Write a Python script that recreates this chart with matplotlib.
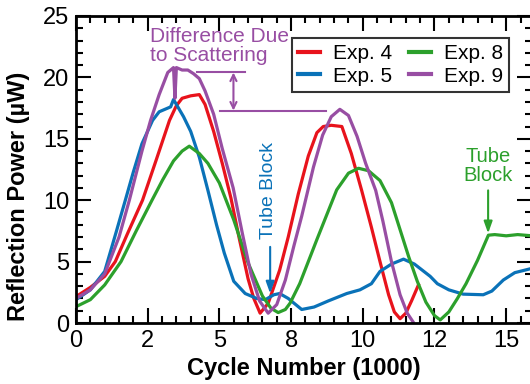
import matplotlib
matplotlib.use("Agg")
import matplotlib.pyplot as plt
from matplotlib.ticker import FixedLocator, MultipleLocator

plt.rcParams['font.family'] = ['Liberation Sans', 'DejaVu Sans']

# ---- data ----
red_x = [0, 0.5, 1.0, 1.37, 1.8, 2.32, 2.8, 3.26, 3.5, 3.7, 4.0, 4.3, 4.5, 4.8, 5.1, 5.4, 5.7, 6.0, 6.2, 6.42,
         6.7, 7.1, 7.4, 7.75, 8.1, 8.4, 8.62, 8.9, 9.27, 9.6, 9.96, 10.3, 10.6, 10.9, 11.1, 11.3, 11.5, 11.7, 11.94]
red_y = [2.15, 2.9, 3.8, 5.0, 7.3, 10.0, 13.3, 16.5, 17.7, 18.3, 18.5, 18.6, 17.8, 15.6, 13.0, 10.2, 6.8, 3.6, 2.0, 0.8,
         1.6, 4.3, 7.0, 10.5, 13.6, 15.5, 16.0, 16.1, 16.0, 13.8, 10.8, 7.8, 5.0, 2.3, 0.9, 0.35, 0.8, 1.8, 3.1]

blue_x = [0, 0.5, 1.0, 1.1, 1.4, 1.72, 2.0, 2.3, 2.67, 2.9, 3.1, 3.3, 3.4, 3.55, 3.75, 4.0, 4.3, 4.6, 4.9, 5.17,
          5.5, 5.9, 6.3, 6.6, 6.9, 7.1, 7.4, 7.87, 8.3, 8.8, 9.44, 9.9, 10.3, 10.6, 11.0, 11.42, 11.8, 12.35, 12.6,
          13.0, 13.5, 14.2, 14.5, 14.9, 15.3, 15.9]
blue_y = [1.9, 2.7, 4.2, 5.0, 7.4, 10.0, 12.3, 14.6, 16.5, 17.2, 17.4, 17.6, 18.2, 17.6, 16.8, 15.6, 13.5, 10.8, 8.0, 5.7,
          3.4, 2.4, 2.0, 1.9, 2.3, 2.4, 2.0, 1.1, 1.3, 1.8, 2.4, 2.7, 3.2, 4.2, 4.8, 5.2, 4.8, 3.8, 3.2,
          2.7, 2.35, 2.3, 2.6, 3.5, 4.1, 4.45]

green_x = [0, 0.5, 1.0, 1.57, 2.1, 2.65, 3.02, 3.4, 3.7, 3.95, 4.3, 4.6, 5.0, 5.5, 6.0, 6.5, 6.8, 7.05, 7.3, 7.46,
           7.8, 8.4, 9.09, 9.5, 9.85, 10.2, 10.6, 11.0, 11.3, 11.6, 11.9, 12.2, 12.5, 12.7, 13.0, 13.3, 13.6, 14.0,
           14.38, 14.6, 15.0, 15.4, 15.9]
green_y = [1.33, 1.9, 3.1, 5.0, 7.5, 10.0, 11.65, 13.2, 14.0, 14.4, 13.8, 13.0, 11.4, 8.4, 4.9, 2.2, 1.2, 0.85, 1.1, 1.6,
           3.2, 6.8, 10.84, 12.2, 12.6, 12.4, 11.6, 9.8, 7.6, 5.4, 3.4, 1.7, 0.6, 0.25, 0.9, 2.0, 3.2, 5.1,
           7.15, 7.2, 7.1, 7.2, 7.1]

purple_x = [0, 0.5, 1.0, 1.5, 1.86, 2.3, 2.6, 2.9, 3.2, 3.4, 3.45, 3.5, 3.7, 3.9, 4.1, 4.3, 4.5, 4.8, 5.1, 5.48,
            5.8, 6.1, 6.4, 6.7, 7.0, 7.3, 7.6, 7.87, 8.28, 8.6, 8.9, 9.2, 9.5, 9.8, 10.1, 10.45, 10.7, 11.0, 11.3,
            11.55, 11.75]
purple_y = [2.0, 2.7, 4.0, 7.0, 10.0, 14.0, 16.5, 18.6, 20.4, 20.8, 18.3, 20.8, 20.6, 20.6, 20.3, 19.9, 18.9, 17.0, 14.2, 11.0,
            7.3, 4.0, 1.8, 0.8, 1.5, 3.5, 6.3, 8.7, 12.7, 15.3, 16.8, 17.4, 16.9, 15.2, 13.0, 10.8, 8.3, 5.0, 2.3,
            0.8, 0.1]

series_labels = ['Exp. 4', 'Exp. 5', 'Exp. 8', 'Exp. 9']
series_colors = ['#e8131c', '#0a72b8', '#2ca02c', '#984ea3']

x_tick_pos = [0, 2.5, 5, 7.5, 10, 12.5, 15]
x_tick_labels = ['0', '2', '5', '8', '10', '12', '15']
y_tick_pos = [0, 5, 10, 15, 20, 25]

# ---- figure ----
fig = plt.figure(figsize=(5.3, 3.84), dpi=100)
ax = fig.add_axes([76 / 530, 1 - 323 / 384, (532 - 76) / 530, (323 - 16) / 384])

data = [(red_x, red_y), (blue_x, blue_y), (green_x, green_y), (purple_x, purple_y)]
handles = []
for (xs, ys), lab, col in zip(data, series_labels, series_colors):
    h, = ax.plot(xs, ys, color=col, lw=2.3, label=lab)
    handles.append(h)

ax.set_xlim(0, 15.9)
ax.set_ylim(0, 25)
ax.xaxis.set_major_locator(FixedLocator(x_tick_pos))
ax.set_xticklabels(x_tick_labels)
ax.xaxis.set_minor_locator(MultipleLocator(0.5))
ax.yaxis.set_major_locator(FixedLocator(y_tick_pos))
ax.yaxis.set_minor_locator(MultipleLocator(1))
ax.tick_params(which='both', direction='in', top=True, right=True, width=1.5, labelsize=17)
ax.tick_params(which='major', length=10.5, pad=5)
ax.tick_params(which='minor', length=5)
for s in ax.spines.values():
    s.set_linewidth(2.0)

ax.set_xlabel('Cycle Number (1000)', fontsize=17, fontweight='bold')
ax.set_ylabel('Reflection Power (µW)', fontsize=17, fontweight='bold')
ax.xaxis.set_label_coords(0.5, -0.11)
ax.yaxis.set_label_coords(-0.10, 0.414)

leg = ax.legend(handles=handles, ncol=2, loc='upper right', bbox_to_anchor=(0.9496, 0.928),
                borderaxespad=0, fontsize=15, frameon=True, fancybox=False, handlelength=1.06,
                handletextpad=0.62, columnspacing=0.8, labelspacing=0.17, borderpad=0.29)
leg.get_frame().set_edgecolor('black')
leg.get_frame().set_linewidth(1.5)
for lh in leg.get_lines():
    lh.set_linewidth(3.0)

purple = series_colors[3]
ax.text(2.58, 24.1, 'Difference Due\nto Scattering', color=purple, fontsize=15,
        ha='left', va='top', linespacing=1.0)
ax.plot([4.22, 5.9], [20.4, 20.4], color=purple, lw=1.5)
ax.plot([5.02, 8.72], [17.3, 17.3], color=purple, lw=1.5)
ax.annotate('', xy=(5.49, 17.3), xytext=(5.49, 20.4),
            arrowprops=dict(arrowstyle='<->,head_length=0.45,head_width=0.22', color=purple, lw=1.5,
                            shrinkA=0, shrinkB=0))

blue = series_colors[1]
ax.text(6.72, 10.8, 'Tube Block', color=blue, fontsize=14, rotation=90, ha='center', va='center')
ax.annotate('', xy=(6.77, 2.4), xytext=(6.77, 6.2),
            arrowprops=dict(arrowstyle='-|>,head_length=0.7,head_width=0.25', color=blue, lw=1.5,
                            shrinkA=0, shrinkB=0))

green = series_colors[2]
ax.text(14.37, 14.3, 'Tube\nBlock', color=green, fontsize=14.5, ha='center', va='top', linespacing=1.0)
ax.annotate('', xy=(14.37, 7.3), xytext=(14.37, 10.8),
            arrowprops=dict(arrowstyle='-|>,head_length=0.7,head_width=0.25', color=green, lw=1.5,
                            shrinkA=0, shrinkB=0))

fig.savefig('out.png', dpi=100)
